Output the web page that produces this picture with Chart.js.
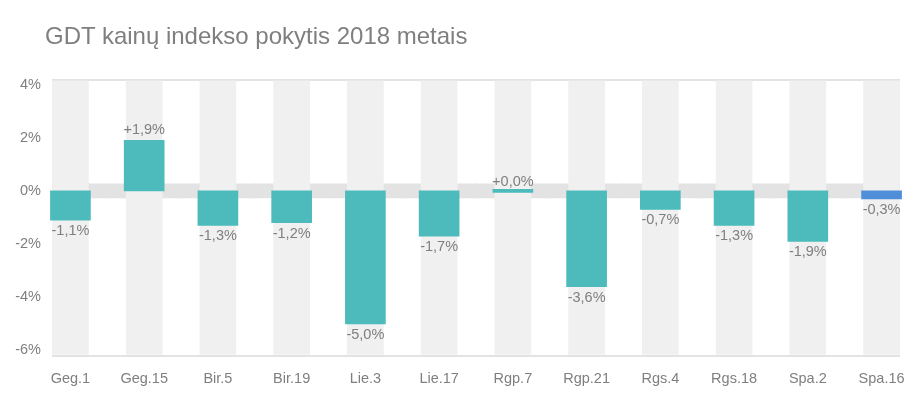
<!DOCTYPE html>
<html lang="lt">
<head>
<meta charset="UTF-8">
<title>GDT kainų indekso pokytis 2018 metais</title>
<script src="https://cdn.jsdelivr.net/npm/chart.js@4.4.0/dist/chart.umd.min.js"></script>
<style>
*{box-sizing:border-box;margin:0;padding:0}
body{background:#fff;width:923px;height:398px;overflow:hidden;font-family:"Liberation Sans",Arial,sans-serif}
h1{position:absolute;left:45px;top:24px;font-size:24px;line-height:24px;font-weight:normal;color:#7f7f7f;white-space:nowrap}
.cw{position:relative;width:923px;height:398px}
</style>
</head>
<body>
<div class="cw">
  <canvas id="gdt"></canvas>
  <h1>GDT kainų indekso pokytis 2018 metais</h1>
</div>
<script>
// Aukcionai (datos) ir GDT indekso pokyčiai, %
const auctions = ["Geg.1", "Geg.15", "Bir.5", "Bir.19", "Lie.3", "Lie.17", "Rgp.7", "Rgp.21", "Rgs.4", "Rgs.18", "Spa.2", "Spa.16"];
const changes = [-1.1, 1.9, -1.3, -1.2, -5.0, -1.7, 0.0, -3.6, -0.7, -1.3, -1.9, -0.3];
const yTicks = [-6, -4, -2, 0, 2, 4];

const teal = "#4dbbbb", blue = "#4f8ed8", textColor = "#7f7f7f";
const font = "'Liberation Sans',Arial,sans-serif";
const yMin = -6.21, yMax = 4.17;

const fmt = v => (v >= 0 ? "+" : "") + v.toFixed(1).replace(".", ",") + "%";

const valueLabels = {
  id: "valueLabels",
  afterDatasetsDraw(chart) {
    const ctx = chart.ctx;
    const meta = chart.getDatasetMeta(0);
    ctx.save();
    ctx.font = "14.5px " + font;
    ctx.fillStyle = textColor;
    ctx.textAlign = "center";
    ctx.textBaseline = "middle";
    meta.data.forEach((bar, i) => {
      const v = changes[i];
      const y = v >= 0 ? bar.y - 10 : bar.y + 11;
      ctx.fillText(fmt(v), bar.x, y);
    });
    ctx.restore();
  }
};

const isBound = v => v === yMin || v === yMax;

new Chart(document.getElementById("gdt"), {
  type: "bar",
  data: {
    datasets: [{
      label: "Pokytis",
      data: changes.map((v, i) => ({ x: i, y: v })),
      backgroundColor: changes.map((v, i) => i === changes.length - 1 ? blue : teal),
      barThickness: 40,
      minBarLength: 3,
      grouped: false,
      clip: 4,
      order: 1
    }, {
      label: "stulpeliai",
      data: auctions.map((a, i) => ({ x: i, y: [-6.15, 4.14] })),
      backgroundColor: "#f0f0f0",
      barThickness: 36,
      grouped: false,
      order: 2
    }, {
      label: "nulis",
      data: auctions.map((a, i) => ({ x: i, y: [-0.265, 0.265] })),
      backgroundColor: "#e3e3e3",
      barThickness: 75,
      grouped: false,
      clip: 0,
      order: 3
    }]
  },
  options: {
    responsive: true, maintainAspectRatio: false, animation: false,
    layout: { padding: { left: 0, right: 23, top: 80, bottom: 0 } },
    plugins: {
      legend: { display: false },
      tooltip: { enabled: false },
      title: { display: false }
    },
    scales: {
      x: {
        type: "linear", min: -0.25, max: 11.25, offset: false,
        afterBuildTicks: s => { s.ticks = auctions.map((a, i) => ({ value: i })); },
        afterFit: s => { s.height = 42; },
        grid: { display: false, offset: false },
        border: { display: false },
        ticks: {
          autoSkip: false, maxRotation: 0, padding: 6,
          color: textColor, font: { family: font, size: 14.5 },
          callback: v => auctions[v]
        }
      },
      y: {
        min: yMin, max: yMax,
        afterBuildTicks: s => { s.ticks = [{ value: yMin }, ...yTicks.map(v => ({ value: v })), { value: yMax }]; },
        afterFit: s => { s.width = 52; },
        border: { display: false },
        grid: {
          drawTicks: false,
          color: c => isBound(c.tick.value) ? "#e3e3e3" : "rgba(0,0,0,0)",
          lineWidth: c => isBound(c.tick.value) ? 2 : 0
        },
        ticks: {
          autoSkip: false, padding: 11,
          color: textColor, font: { family: font, size: 14.5 },
          callback: v => yTicks.includes(v) ? v + "%" : ""
        }
      }
    }
  },
  plugins: [valueLabels]
});
</script>
</body>
</html>
